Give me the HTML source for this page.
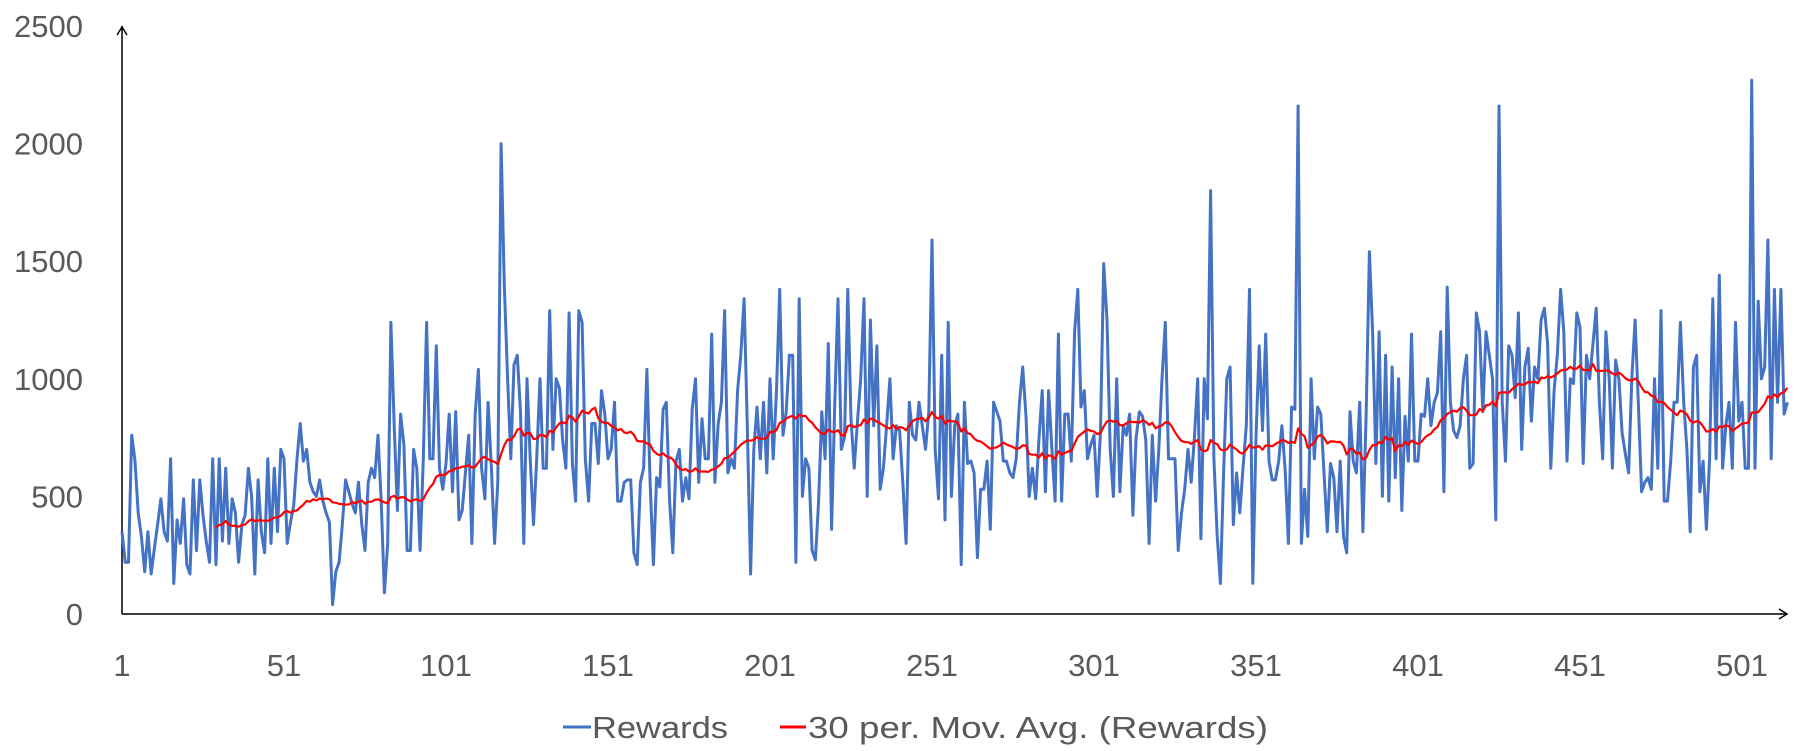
<!DOCTYPE html>
<html><head><meta charset="utf-8"><style>
html,body{margin:0;padding:0;background:#fff;}
svg{display:block;font-family:"Liberation Sans",sans-serif;}
</style></head><body>
<svg id="chart" width="1804" height="751" viewBox="0 0 1804 751" xmlns="http://www.w3.org/2000/svg">
<g id="yticks"></g>
<g id="xticks"></g>
<line x1="122" y1="614" x2="122" y2="26" stroke="#000" stroke-width="1.5"/>
<polyline points="117,35 122,27 127,35" fill="none" stroke="#000" stroke-width="1.5"/>
<line x1="122" y1="614" x2="1787" y2="614" stroke="#000" stroke-width="1.5"/>
<polyline points="1779,609 1787,614 1779,619" fill="none" stroke="#000" stroke-width="1.5"/>
<path id="rew" fill="none" stroke="#4472C4" stroke-width="3" stroke-linejoin="round"/>
<path id="ma" fill="none" stroke="#FF0000" stroke-width="2.2" stroke-linejoin="round"/>
<g>
<g>
<line x1="563" y1="727" x2="591" y2="727" stroke="#4472C4" stroke-width="3"/>
<text x="592" y="738" font-size="31" fill="#595959" textLength="136" lengthAdjust="spacingAndGlyphs">Rewards</text>
</g>
<g>
<line x1="780" y1="727" x2="806" y2="727" stroke="#FF0000" stroke-width="3"/>
<text x="808" y="738" font-size="31" fill="#595959" textLength="460" lengthAdjust="spacingAndGlyphs">30 per. Mov. Avg. (Rewards)</text>
</g>
</g>
</svg>
<script>
const yTicks=[0,500,1000,1500,2000,2500];
const xTickLabels=[1,51,101,151,201,251,301,351,401,451,501];
const rewards=[
350,220,220,760,650,430,330,180,350,170,
280,380,490,350,310,660,130,400,300,490,
210,170,570,270,570,420,310,220,660,210,
660,310,620,300,490,430,220,380,420,620,
500,170,570,350,260,660,300,620,350,700,
660,300,390,460,660,810,650,700,560,520,500,
570,480,430,390,40,180,220,380,570,520,
470,430,560,380,270,560,620,580,760,480,
90,300,1240,800,440,850,720,270,270,700,
620,270,660,1240,660,660,1140,620,530,640,
850,520,860,400,440,600,760,300,850,1040,
620,490,900,620,300,560,2000,1400,1000,660,
1060,1100,860,300,1000,660,380,660,1000,620,
620,1290,700,1000,960,740,620,1280,640,480,
1290,1240,660,480,810,810,640,950,850,660,700,
900,480,480,560,570,570,260,210,560,620,
1040,560,210,580,540,870,900,480,260,650,
700,480,580,490,870,1000,560,830,660,660,
1190,560,810,900,1290,600,660,620,950,1100,
1340,800,170,700,880,660,900,600,1000,660,
950,1380,760,860,1100,1100,220,1340,500,660,
620,270,230,480,860,660,1150,360,900,1340,
700,750,1380,830,620,820,1000,1340,500,1250,800,
1140,530,620,800,1000,660,800,780,560,300,
900,760,740,900,800,700,860,1590,700,490,
1100,400,1240,500,800,850,210,900,640,650,
600,240,530,530,650,360,900,860,820,650,
650,600,580,660,900,1050,840,500,620,490,
740,950,520,950,700,480,1190,480,850,850,650,
1200,1380,880,950,660,720,760,500,780,1490,
1250,700,500,1000,520,800,760,850,420,750,
860,840,740,300,760,480,700,1000,1240,660,
660,660,270,430,530,700,560,750,1000,320,
1000,830,1800,660,340,130,600,1000,1050,380,600,
430,620,800,1380,130,750,1140,780,1190,650,
570,570,650,800,610,300,880,870,2160,300,
530,330,1000,660,880,850,600,350,640,580,
350,650,330,260,860,650,600,900,350,860,
1540,1200,640,1200,500,1100,480,1050,580,1000,
440,840,650,1190,650,650,850,840,1000,800,900,
940,1200,520,1390,900,780,750,800,1000,1100,
620,640,1280,1200,860,1200,1100,1000,400,2160,
900,650,1140,1100,920,1280,700,1050,1130,820,
1050,1000,1250,1300,1150,620,950,1100,1380,1200,
650,1000,980,1280,1220,640,1100,1000,1150,1300,
900,660,1200,1000,620,1080,1000,770,680,600,1000,
1250,900,520,560,580,530,1000,620,1290,480,
480,650,900,900,1240,900,700,350,1050,1100,
520,650,360,660,1340,660,1440,620,800,900,
620,1240,820,900,620,620,2270,620,1330,1000,
1050,1590,660,1380,900,1380,850,900
];
const maPeriod=30;

const X0=122, XSTEP=3.24, Y0=614, YSCALE=0.2352;
const xPos=i=>X0+i*XSTEP;
const yPos=v=>Y0-v*YSCALE;
const NS="http://www.w3.org/2000/svg";

const yg=document.getElementById('yticks');
yTicks.forEach(v=>{
  const t=document.createElementNS(NS,'text');
  
  
  t.setAttribute('x',83);t.setAttribute('y',yPos(v)+11);
  t.setAttribute('text-anchor','end');t.setAttribute('font-size','31');t.setAttribute('fill','#595959');
  t.textContent=v;yg.appendChild(t);
});
const xg=document.getElementById('xticks');
xTickLabels.forEach(c=>{
  const t=document.createElementNS(NS,'text');
  
  
  t.setAttribute('x',xPos(c-1));t.setAttribute('y',676);
  t.setAttribute('text-anchor','middle');t.setAttribute('font-size','31');t.setAttribute('fill','#595959');
  t.textContent=c;xg.appendChild(t);
});
let d='';
rewards.forEach((v,i)=>{d+=(i?'L':'M')+xPos(i).toFixed(1)+' '+yPos(v).toFixed(1);});
document.getElementById('rew').setAttribute('d',d);
let m='';
for(let i=maPeriod-1;i<rewards.length;i++){
  let s=0;for(let k=i-maPeriod+1;k<=i;k++)s+=rewards[k];
  m+=(i===maPeriod-1?'M':'L')+xPos(i).toFixed(1)+' '+yPos(s/maPeriod).toFixed(1);
}
document.getElementById('ma').setAttribute('d',m);
</script>
</body></html>
